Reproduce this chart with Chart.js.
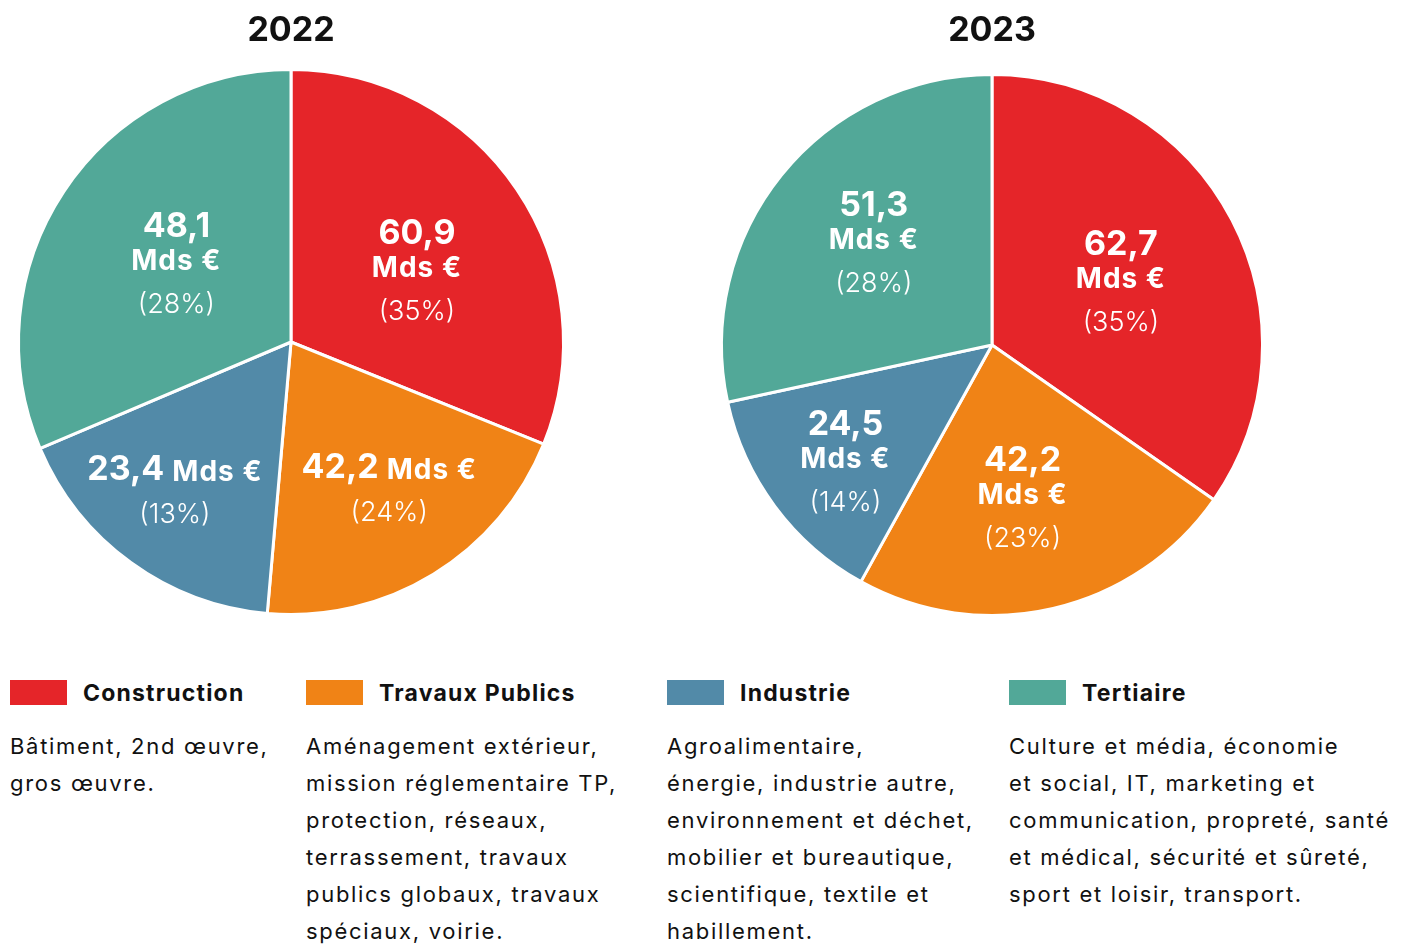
<!DOCTYPE html>
<html lang="fr">
<head>
<meta charset="utf-8">
<script src="https://cdn.jsdelivr.net/npm/chart.js@4.4.1/dist/chart.umd.min.js"></script>
<style>
    html, body { margin: 0; padding: 0; background: #fff; }
    body { width: 1411px; height: 945px; position: relative; overflow: hidden; font-family: 'Inter', 'Open Sans', sans-serif; color: #111; }
    canvas { position: absolute; top: 0; }
    #pie2022 { left: -3px; }
    #pie2023 { left: 701px; }
    .legend { position: absolute; top: 680px; left: 0; width: 1411px; }
    .col { position: absolute; top: 0; }
    .key { display: flex; align-items: center; height: 25px; }
    .swatch { width: 57px; height: 25px; margin-right: 16px; flex: none; }
    .key span { font-weight: 700; font-size: 23px; letter-spacing: 1.2px; }
    .desc { margin-top: 23px; font-size: 22px; letter-spacing: 1.7px; line-height: 37px; white-space: nowrap; }
</style>
</head>
<body>
<canvas id="pie2022" width="588" height="616"></canvas>
<canvas id="pie2023" width="582" height="617"></canvas>
<div class="legend" id="legend"></div>

<script>
// Sectors and colours
const categories = ['Construction', 'Travaux Publics', 'Industrie', 'Tertiaire'];
const colors = ['#E52529', '#F08316', '#528AA8', '#52A898'];

// Values (Mds €) as written on the slices
const values2022 = [60.9, 42.2, 23.4, 48.1];
const values2023 = [62.7, 42.2, 24.5, 51.3];

// The 2022 pie in the source is not drawn to scale: slice angles (degrees)
const sliceDeg2022 = [112, 73, 62, 113];

const years = ['2022', '2023'];

const descriptions = [
    ['Bâtiment, 2nd œuvre,', 'gros œuvre.'],
    ['Aménagement extérieur,', 'mission réglementaire TP,', 'protection, réseaux,', 'terrassement, travaux', 'publics globaux, travaux', 'spéciaux, voirie.'],
    ['Agroalimentaire,', 'énergie, industrie autre,', 'environnement et déchet,', 'mobilier et bureautique,', 'scientifique, textile et', 'habillement.'],
    ['Culture et média, économie', 'et social, IT, marketing et', 'communication, propreté, santé', 'et médical, sécurité et sûreté,', 'sport et loisir, transport.']
];

const FONT = "'Inter', 'Open Sans', sans-serif";

function fmt(v) {
    return v.toLocaleString('fr-FR', { minimumFractionDigits: 1, maximumFractionDigits: 1 });
}

// Draws the value / "Mds €" / percentage block on each slice
const sliceLabels = {
    id: 'sliceLabels',
    afterDatasetsDraw(chart, args, opts) {
        const ctx = chart.ctx;
        const meta = chart.getDatasetMeta(0);
        const vals = opts.values;
        const total = vals.reduce((a, b) => a + b, 0);
        ctx.save();
        ctx.fillStyle = '#fff';
        ctx.textBaseline = 'middle';
        ctx.textAlign = 'left';
        const bigFont = '700 34px ' + FONT;
        const unitFont = '700 28px ' + FONT;
        const pctFont = '300 27px ' + FONT;
        const unit = 'Mds €';
        const unitSpacing = '1px';
        meta.data.forEach((arc, i) => {
            const p = arc.tooltipPosition();
            const x = p.x + opts.offsets[i][0];
            const y = p.y + opts.offsets[i][1];
            const num = fmt(vals[i]);
            const pct = '(' + Math.round(vals[i] / total * 100) + '%)';
            let w;
            if (opts.inline[i]) {
                ctx.font = bigFont;
                ctx.letterSpacing = '0px';
                const w1 = ctx.measureText(num + ' ').width;
                ctx.font = unitFont;
                ctx.letterSpacing = unitSpacing;
                const w2 = ctx.measureText(unit).width;
                const x0 = x - (w1 + w2) / 2;
                ctx.font = bigFont;
                ctx.letterSpacing = '0px';
                ctx.fillText(num, x0, y);
                ctx.font = unitFont;
                ctx.letterSpacing = unitSpacing;
                ctx.fillText(unit, x0 + w1, y + 2);
                ctx.font = pctFont;
                ctx.letterSpacing = '0px';
                w = ctx.measureText(pct).width;
                ctx.fillText(pct, x - w / 2, y + 45);
            } else {
                ctx.font = bigFont;
                ctx.letterSpacing = '0px';
                w = ctx.measureText(num).width;
                ctx.fillText(num, x - w / 2, y - 35);
                ctx.font = unitFont;
                ctx.letterSpacing = unitSpacing;
                w = ctx.measureText(unit).width;
                ctx.fillText(unit, x - w / 2, y);
                ctx.font = pctFont;
                ctx.letterSpacing = '0px';
                w = ctx.measureText(pct).width;
                ctx.fillText(pct, x - w / 2, y + 43);
            }
        });
        ctx.restore();
    }
};

function makePie(id, title, data, labelValues, offsets, inline, titlePadBottom) {
    const ctx = document.getElementById(id);
    return new Chart(ctx, {
        type: 'pie',
        data: {
            labels: categories,
            datasets: [{
                data: data,
                backgroundColor: colors,
                borderColor: '#fff',
                borderWidth: 3
            }]
        },
        options: {
            responsive: false,
            animation: false,
            events: [],
            layout: { padding: 0 },
            plugins: {
                legend: { display: false },
                tooltip: { enabled: false },
                title: {
                    display: true,
                    text: title,
                    color: '#111',
                    font: { family: FONT, size: 34, weight: 'bold' },
                    padding: { top: 10, bottom: titlePadBottom }
                },
                sliceLabels: {
                    values: labelValues,
                    offsets: offsets,
                    inline: inline
                }
            }
        },
        plugins: [sliceLabels]
    });
}

makePie('pie2022', years[0], sliceDeg2022, values2022,
    [[13, 3], [27, 10], [-36, 18], [-1, -5]],
    [false, true, true, false], 17.2);

makePie('pie2023', years[1], values2023, values2023,
    [[9, -3], [0, 19], [-38, 34], [-13, -19]],
    [false, false, false, false], 22.2);

// Legend with descriptions
const colLeft = [10, 306, 667, 1009];
const legend = document.getElementById('legend');
categories.forEach((name, i) => {
    const col = document.createElement('div');
    col.className = 'col';
    col.style.left = colLeft[i] + 'px';
    col.innerHTML = '<div class="key"><div class="swatch" style="background:' + colors[i] + '"></div><span>' + name + '</span></div>' +
        '<div class="desc">' + descriptions[i].join('<br>') + '</div>';
    legend.appendChild(col);
});
</script>
</body>
</html>
